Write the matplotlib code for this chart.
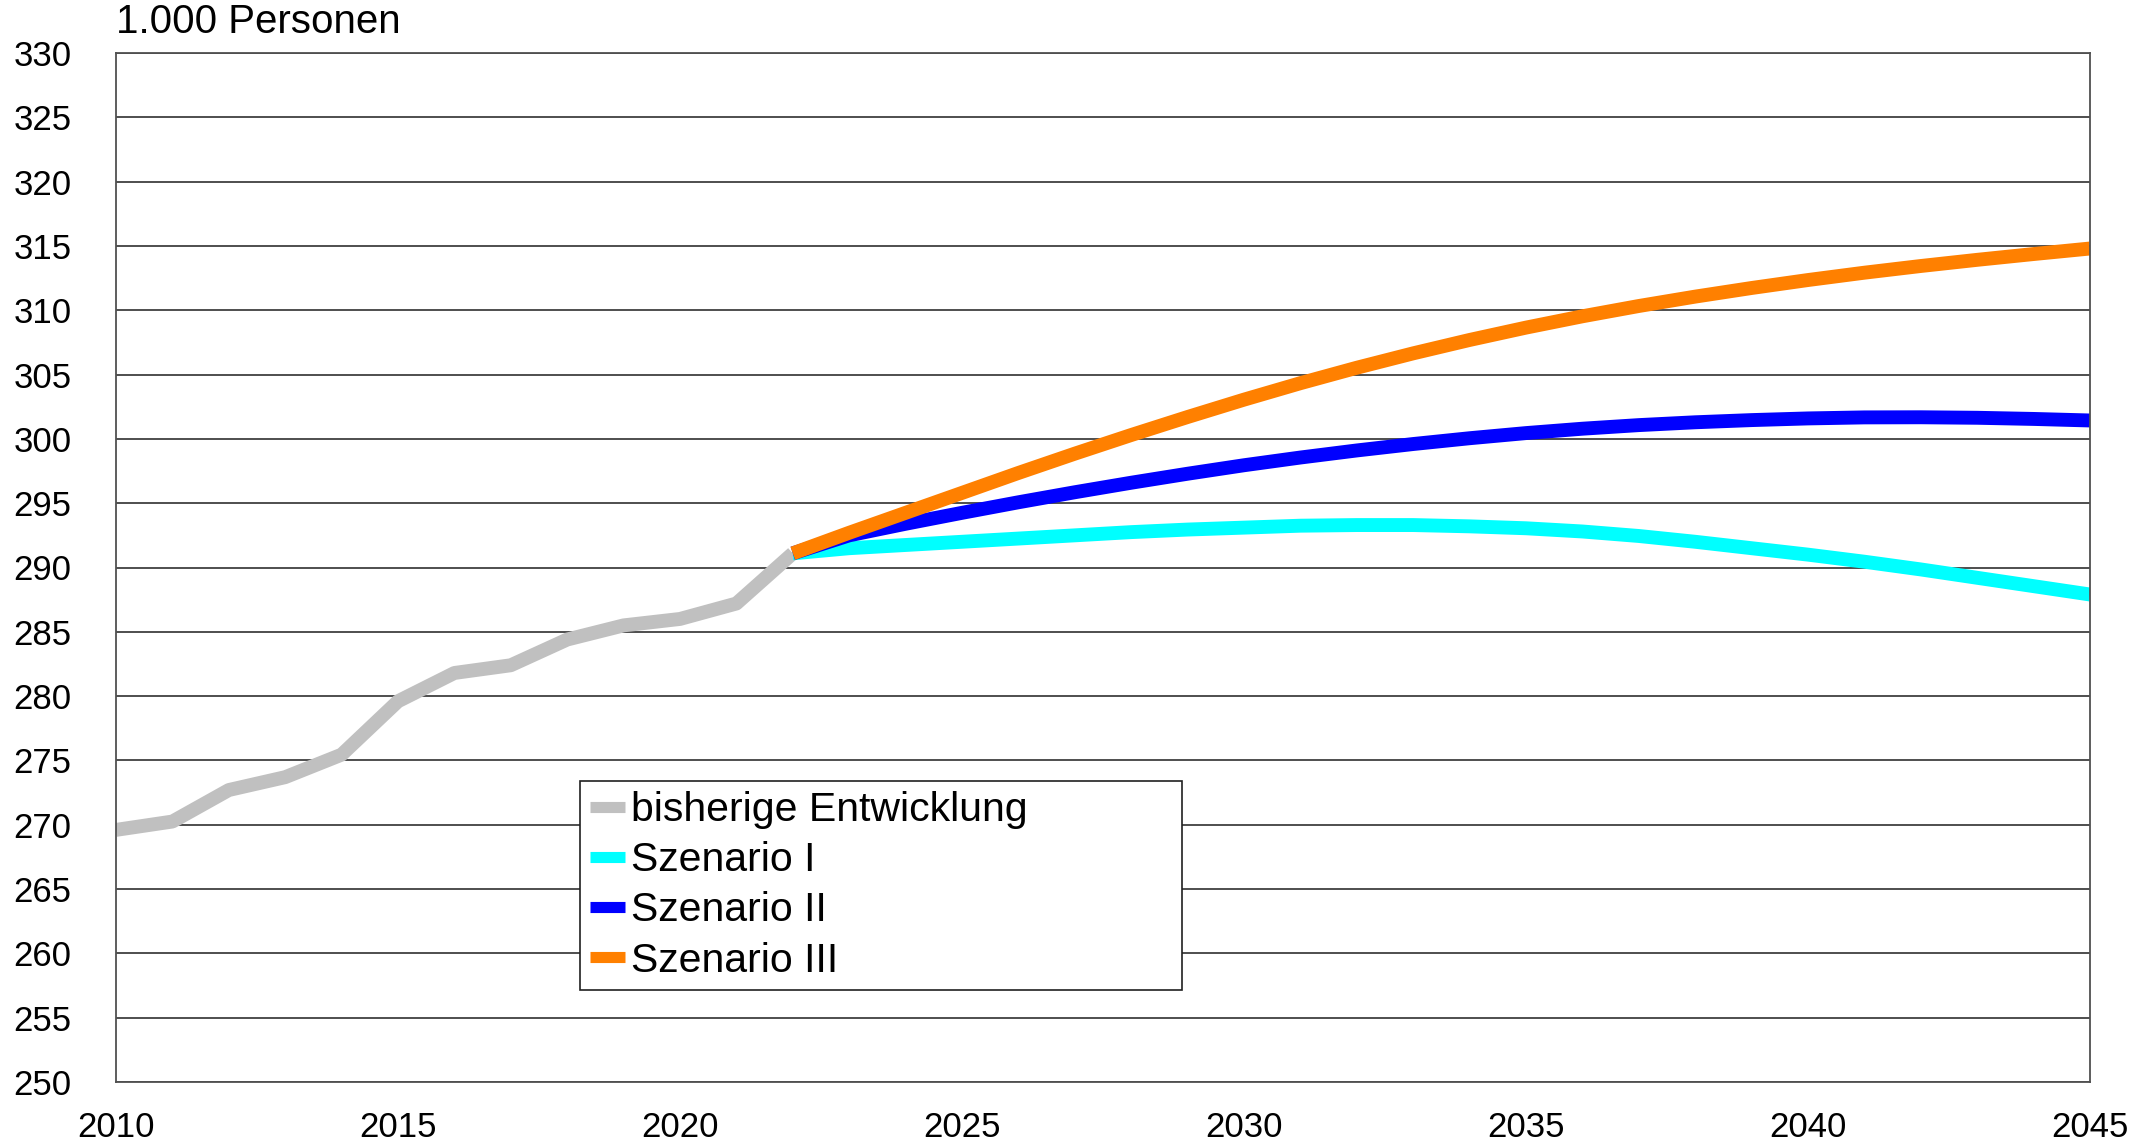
import matplotlib.pyplot as plt

plt.rcParams['font.family'] = ['Liberation Sans', 'DejaVu Sans']

years_hist = list(range(2010, 2023))
hist = [269.6, 270.25, 272.7, 273.7, 275.45, 279.6, 281.8, 282.4, 284.4, 285.5, 286.0, 287.2, 291.1]

years_proj = list(range(2022, 2046))
szen_1 = [291.1, 291.5, 291.75, 292.0, 292.25, 292.5, 292.75, 292.95, 293.1, 293.25, 293.3, 293.3,
          293.2, 293.05, 292.8, 292.45, 292.0, 291.5, 291.0, 290.45, 289.85, 289.2, 288.55, 287.9]
szen_2 = [291.1, 292.5, 293.4, 294.25, 295.07, 295.85, 296.59, 297.29, 297.95, 298.55, 299.1, 299.6,
          300.05, 300.45, 300.79, 301.07, 301.29, 301.46, 301.59, 301.67, 301.68, 301.64, 301.55, 301.43]
szen_3 = [291.1, 292.7, 294.25, 295.8, 297.35, 298.85, 300.3, 301.7, 303.05, 304.33, 305.53, 306.65,
          307.69, 308.65, 309.53, 310.33, 311.06, 311.73, 312.35, 312.92, 313.44, 313.92, 314.37, 314.8]

labels = ['bisherige Entwicklung', 'Szenario I', 'Szenario II', 'Szenario III']
colors = ['#C0C0C0', '#00FFFF', '#0000FF', '#FF8000']

fig = plt.figure(figsize=(21.5, 11.41), dpi=100)
ax = fig.add_axes([116 / 2150, 59 / 1141, 1974 / 2150, 1029 / 1141])

lw = 10
ax.plot(years_hist, hist, color=colors[0], lw=lw, label=labels[0], solid_capstyle='butt')
for ys, c, lab in zip([szen_1, szen_2, szen_3], colors[1:], labels[1:]):
    ax.plot(years_proj, ys, color=c, lw=lw, label=lab, solid_capstyle='butt')

ax.set_xlim(2010, 2045)
ax.set_ylim(250, 330)
ax.set_xticks(range(2010, 2046, 5))
ax.set_yticks(range(250, 331, 5))
ax.yaxis.grid(True, color='#404040', lw=1.3)
ax.set_axisbelow(True)
ax.tick_params(axis='both', length=0, labelsize=25)
ax.tick_params(axis='y', pad=32)
ax.tick_params(axis='x', pad=21)
for s in ax.spines.values():
    s.set_color('#505050')
    s.set_linewidth(1.3)

ax.text(0, 1.030, '1.000 Personen', transform=ax.transAxes, fontsize=29, ha='left', va='center')

leg = ax.legend(loc='lower left', bbox_to_anchor=(0.235, 0.0894, 0.305, 0.201), mode='expand',
                borderaxespad=0, fontsize=29.5, frameon=True, fancybox=False, framealpha=1,
                handlelength=0.85, handletextpad=0.15, labelspacing=0.3, borderpad=0.25)
leg.get_frame().set_edgecolor('#202020')
leg.get_frame().set_linewidth(1.2)
for h in leg.get_lines():
    h.set_linewidth(8)

fig.savefig('out.png', dpi=100)
